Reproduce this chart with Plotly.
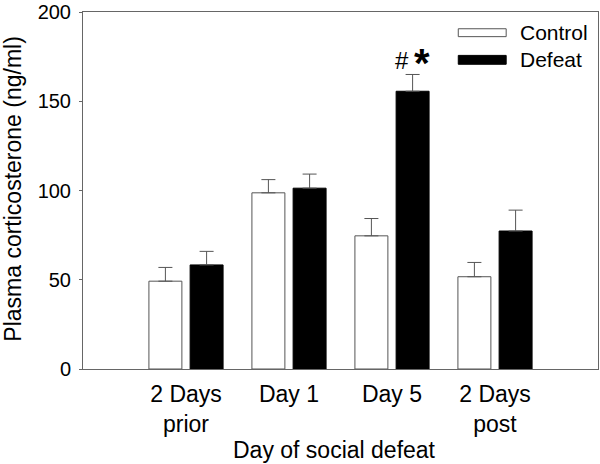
import plotly.graph_objects as go

categories = ["2 Days<br>prior", "Day 1", "Day 5", "2 Days<br>post"]
control_mean = [49.2, 98.7, 74.6, 51.7]
control_sem = [7.7, 7.4, 9.7, 8.0]
defeat_mean = [58.3, 101.3, 155.6, 77.3]
defeat_sem = [7.6, 7.9, 9.4, 11.7]
y_ticks = [0, 50, 100, 150, 200]

xpos = list(range(1, len(categories) + 1))
FONT = "Liberation Sans, Arial, sans-serif"
err_color = "#555555"

fig = go.Figure()
fig.add_trace(go.Bar(
    x=xpos, y=control_mean, name="Control",
    width=0.32, offset=-0.36,
    marker=dict(color="white", line=dict(color="#555555", width=1)),
    error_y=dict(type="data", array=control_sem, arrayminus=[0] * 4, symmetric=False,
                 color=err_color, thickness=1, width=7),
))
fig.add_trace(go.Bar(
    x=xpos, y=defeat_mean, name="Defeat",
    width=0.32, offset=0.04,
    marker=dict(color="black", line=dict(color="black", width=1)),
    error_y=dict(type="data", array=defeat_sem, arrayminus=[0] * 4, symmetric=False,
                 color=err_color, thickness=1, width=7),
))

fig.update_layout(
    width=600, height=464,
    margin=dict(l=83, r=1, t=7, b=95),
    plot_bgcolor="white", paper_bgcolor="white",
    showlegend=False,
    font=dict(family=FONT, color="black"),
    xaxis=dict(range=[0, 5], tickvals=xpos, ticktext=categories,
               showline=True, linecolor="#666666", linewidth=1, mirror=True,
               ticks="", showgrid=False, zeroline=False,
               tickfont=dict(size=23, family=FONT), ticklabelstandoff=4),
    yaxis=dict(range=[0, 200], tickvals=y_ticks,
               showline=True, linecolor="#666666", linewidth=1, mirror=True,
               ticks="outside", ticklen=3, tickcolor="#666666",
               showgrid=False, zeroline=False, ticklabeloverflow="allow",
               tickfont=dict(size=20, family=FONT), ticklabelstandoff=4),
)

# Axis titles
fig.add_annotation(text="Day of social defeat", xref="paper", yref="paper",
                   x=(335 - 83) / 516, y=-(451 - 369) / 362, xanchor="center", yanchor="middle",
                   showarrow=False, font=dict(size=23, family=FONT))
fig.add_annotation(text="Plasma corticosterone (ng/ml)", xref="paper", yref="paper",
                   x=-(83 - 12) / 516, y=(369 - 186) / 362, xanchor="center", yanchor="middle",
                   textangle=-90, showarrow=False, font=dict(size=23, family=FONT))

# Significance marks above Day 5 defeat bar
fig.add_annotation(text="#", x=3.1, y=172.8, xref="x", yref="y", showarrow=False,
                   xanchor="center", yanchor="middle", font=dict(size=24, family=FONT))
fig.add_annotation(text="<b>*</b>", x=3.29, y=171.5, xref="x", yref="y", showarrow=False,
                   xanchor="center", yanchor="middle", font=dict(size=40, family=FONT))

# Legend (manual)
def px_x(p):
    return (p - 83) / 516

def px_y(p):
    return (369 - p) / 362

fig.add_shape(type="rect", xref="paper", yref="paper",
              x0=px_x(459), x1=px_x(507), y0=px_y(32), y1=px_y(24),
              fillcolor="white", line=dict(color="#555555", width=1))
fig.add_shape(type="rect", xref="paper", yref="paper",
              x0=px_x(459), x1=px_x(507), y0=px_y(60), y1=px_y(51),
              fillcolor="black", line=dict(color="black", width=1))
fig.add_annotation(text="Control", xref="paper", yref="paper", x=px_x(519), y=px_y(28),
                   xanchor="left", yanchor="middle", showarrow=False,
                   font=dict(size=21, family=FONT))
fig.add_annotation(text="Defeat", xref="paper", yref="paper", x=px_x(519), y=px_y(55.5),
                   xanchor="left", yanchor="middle", showarrow=False,
                   font=dict(size=21, family=FONT))

fig.write_html("out.html", config={"displayModeBar": False},
               post_script="document.body.style.margin='0';")
